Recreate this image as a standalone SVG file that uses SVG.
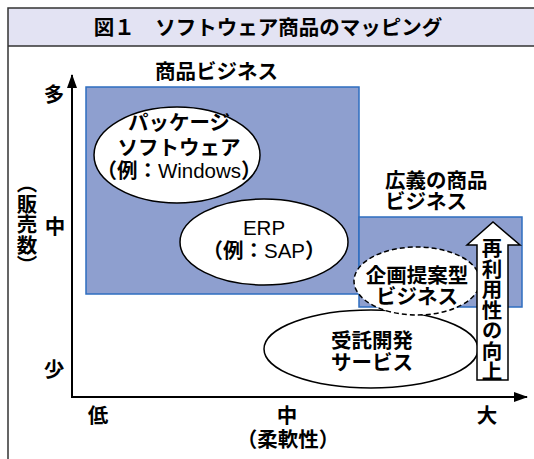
<svg xmlns="http://www.w3.org/2000/svg" width="534" height="459" viewBox="0 0 534 459">
<defs>
<style>
.t{font-family:"Noto Sans CJK JP","Liberation Sans",sans-serif;font-weight:bold;fill:#000;font-size:20.5px}
.r{font-weight:normal;font-family:"Liberation Sans","Noto Sans CJK JP",sans-serif}
.m{text-anchor:middle}
.biz{fill:#8E9FCF;stroke:#2E6EC0;stroke-width:1.5}
.el{fill:#fff;stroke:#000;stroke-width:1.5}
.v{writing-mode:vertical-rl}
</style>
<marker id="ah" markerWidth="14" markerHeight="10" refX="13" refY="5" orient="auto" markerUnits="userSpaceOnUse">
<path d="M0,0 L14,5 L0,10 Z" fill="#000"/>
</marker>
</defs>
<rect x="0" y="0" width="534" height="459" fill="#fff"/>
<!-- frame -->
<rect x="8" y="8" width="540" height="38" fill="#E3E3F3"/>
<path d="M8,459 V8 H534 M8,46 H534" fill="none" stroke="#333" stroke-width="1.5"/>
<text class="t m" x="268" y="35" font-size="22.5">図１　ソフトウェア商品のマッピング</text>

<g id="biz-main">
<rect class="biz" x="86" y="87" width="273" height="207"/>
<text class="t" x="155" y="79">商品ビジネス</text>
</g>
<g id="biz-wide">
<rect class="biz" x="359" y="217" width="163" height="90"/>
<text class="t" x="385" y="188">広義の商品</text>
<text class="t" x="385" y="209">ビジネス</text>
</g>

<g id="package">
<ellipse class="el" cx="177" cy="155" rx="83" ry="48"/>
<text class="t m" x="179" y="130">パッケージ</text>
<text class="t m" x="179" y="155">ソフトウェア</text>
<text class="t m" x="179" y="178">（例：<tspan class="r">Windows</tspan>）</text>
</g>
<g id="erp">
<ellipse class="el" cx="264" cy="242" rx="84" ry="43"/>
<text class="t m r" x="264" y="235">ERP</text>
<text class="t m" x="264" y="258">（例：<tspan class="r">SAP</tspan>）</text>
</g>
<g id="jutaku">
<ellipse class="el" cx="371" cy="349" rx="107" ry="39"/>
<text class="t m" x="372" y="348">受託開発</text>
<text class="t m" x="372" y="370">サービス</text>
</g>
<g id="kikaku">
<ellipse class="el" cx="417" cy="281" rx="63" ry="34" stroke-dasharray="5,3"/>
<text class="t m" x="417" y="283">企画提案型</text>
<text class="t m" x="417" y="304">ビジネス</text>
</g>
<g id="reuse">
<path d="M477,380 V245 H467 L493,222 L520,245 H508 V380 Z" fill="#fff" stroke="#000" stroke-width="1.5"/>
<text class="t v" x="492" y="238" font-size="20">再利用性の向上</text>
</g>

<g id="connectors">
<line x1="72" y1="397" x2="72" y2="75" stroke="#000" stroke-width="2" marker-end="url(#ah)"/>
<line x1="71" y1="397" x2="527" y2="397" stroke="#000" stroke-width="2" marker-end="url(#ah)"/>
</g>

<g id="axis-labels">
<text class="t m" x="54" y="102">多</text>
<text class="t m" x="55" y="234">中</text>
<text class="t m" x="54" y="377">少</text>
<text class="t v" x="27" y="173">（販売数）</text>
<text class="t m" x="98" y="423">低</text>
<text class="t m" x="287" y="423">中</text>
<text class="t m" x="487" y="423">大</text>
<text class="t m" x="288" y="447">（柔軟性）</text>
</g>
</svg>
